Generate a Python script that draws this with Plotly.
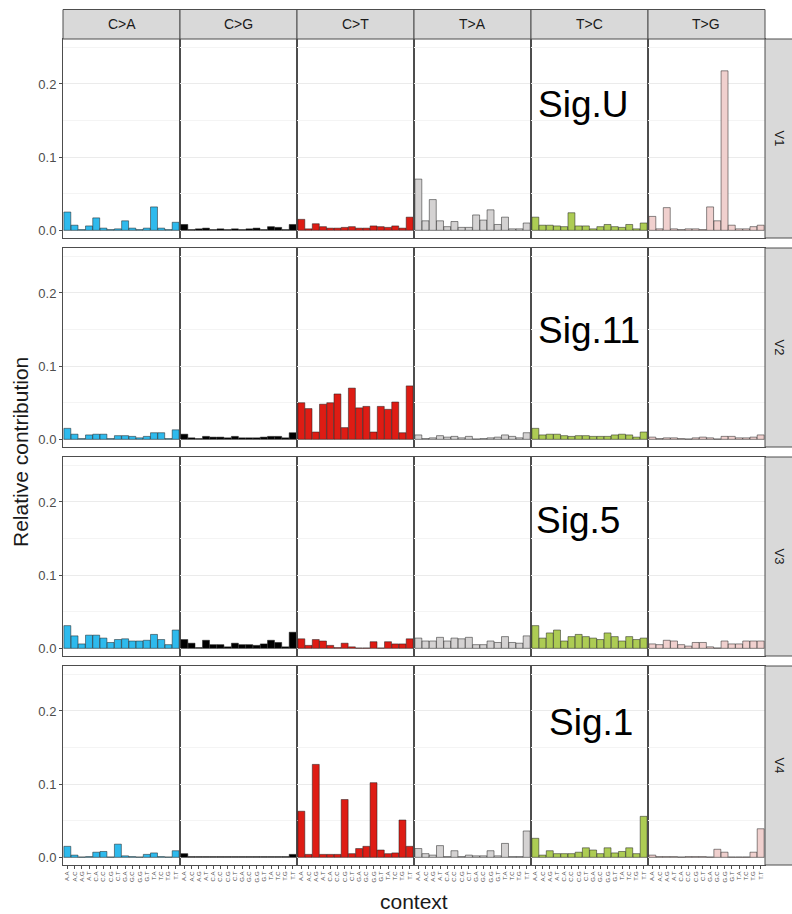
import plotly.graph_objects as go
from plotly.subplots import make_subplots

substitutions = ["C>A", "C>G", "C>T", "T>A", "T>C", "T>G"]
sub_colors = ["#2EBAED", "#000000", "#DE1C14", "#D4D2D2", "#ADCC54", "#F0D0CE"]
contexts = [a + "." + b for a in "ACGT" for b in "ACGT"]
signatures = ["V1", "V2", "V3", "V4"]
sig_labels = ["Sig.U", "Sig.11", "Sig.5", "Sig.1"]

# Relative contribution per signature: 6 substitution types x 16 contexts
V1 = [
    [0.025, 0.007, 0.001, 0.006, 0.017, 0.003, 0.001, 0.002, 0.013, 0.003, 0.001, 0.003, 0.032, 0.003, 0.001, 0.011],
    [0.008, 0.001, 0.002, 0.003, 0.001, 0.002, 0.001, 0.002, 0.001, 0.002, 0.003, 0.001, 0.005, 0.004, 0.001, 0.008],
    [0.015, 0.002, 0.009, 0.005, 0.003, 0.003, 0.004, 0.005, 0.003, 0.003, 0.006, 0.005, 0.004, 0.006, 0.003, 0.018],
    [0.070, 0.013, 0.042, 0.013, 0.005, 0.012, 0.004, 0.004, 0.021, 0.014, 0.028, 0.008, 0.018, 0.002, 0.002, 0.010],
    [0.018, 0.007, 0.007, 0.006, 0.005, 0.024, 0.006, 0.006, 0.002, 0.005, 0.008, 0.005, 0.004, 0.008, 0.002, 0.010],
    [0.019, 0.002, 0.031, 0.002, 0.001, 0.002, 0.002, 0.001, 0.032, 0.013, 0.218, 0.007, 0.002, 0.002, 0.005, 0.007],
]
V2 = [
    [0.015, 0.007, 0.001, 0.006, 0.007, 0.007, 0.001, 0.005, 0.005, 0.004, 0.002, 0.004, 0.009, 0.009, 0.001, 0.013],
    [0.007, 0.002, 0.001, 0.004, 0.003, 0.003, 0.002, 0.004, 0.002, 0.002, 0.002, 0.003, 0.004, 0.004, 0.002, 0.009],
    [0.050, 0.042, 0.010, 0.048, 0.050, 0.062, 0.016, 0.070, 0.043, 0.045, 0.010, 0.045, 0.041, 0.051, 0.009, 0.073],
    [0.006, 0.001, 0.002, 0.005, 0.003, 0.004, 0.002, 0.004, 0.0005, 0.001, 0.002, 0.003, 0.006, 0.004, 0.002, 0.009],
    [0.015, 0.006, 0.007, 0.007, 0.005, 0.004, 0.005, 0.005, 0.004, 0.004, 0.004, 0.006, 0.007, 0.006, 0.003, 0.010],
    [0.003, 0.001, 0.002, 0.002, 0.001, 0.0005, 0.002, 0.003, 0.002, 0.0005, 0.004, 0.004, 0.002, 0.002, 0.003, 0.006],
]
V3 = [
    [0.031, 0.017, 0.006, 0.018, 0.018, 0.014, 0.008, 0.012, 0.013, 0.010, 0.010, 0.011, 0.019, 0.012, 0.005, 0.025],
    [0.012, 0.007, 0.001, 0.011, 0.005, 0.005, 0.002, 0.007, 0.005, 0.005, 0.004, 0.006, 0.011, 0.008, 0.002, 0.022],
    [0.013, 0.004, 0.012, 0.010, 0.004, 0.001, 0.007, 0.002, 0.0005, 0.0005, 0.009, 0.0005, 0.009, 0.006, 0.006, 0.013],
    [0.014, 0.010, 0.010, 0.015, 0.010, 0.014, 0.013, 0.015, 0.005, 0.005, 0.010, 0.008, 0.016, 0.008, 0.007, 0.017],
    [0.031, 0.014, 0.021, 0.025, 0.010, 0.016, 0.019, 0.016, 0.014, 0.012, 0.021, 0.016, 0.010, 0.016, 0.012, 0.014],
    [0.006, 0.005, 0.011, 0.010, 0.005, 0.003, 0.008, 0.008, 0.002, 0.0005, 0.010, 0.006, 0.006, 0.010, 0.010, 0.010],
]
V4 = [
    [0.015, 0.003, 0.0005, 0.001, 0.007, 0.008, 0.0005, 0.018, 0.002, 0.001, 0.0005, 0.004, 0.006, 0.001, 0.0005, 0.009],
    [0.005, 0.001, 0.001, 0.001, 0.001, 0.001, 0.001, 0.001, 0.001, 0.001, 0.001, 0.001, 0.001, 0.001, 0.001, 0.004],
    [0.063, 0.004, 0.127, 0.004, 0.004, 0.004, 0.079, 0.005, 0.012, 0.015, 0.102, 0.010, 0.005, 0.006, 0.051, 0.015],
    [0.012, 0.005, 0.003, 0.016, 0.001, 0.009, 0.001, 0.003, 0.002, 0.002, 0.009, 0.002, 0.019, 0.001, 0.001, 0.036],
    [0.026, 0.003, 0.009, 0.005, 0.005, 0.005, 0.007, 0.013, 0.010, 0.005, 0.013, 0.006, 0.008, 0.013, 0.005, 0.056],
    [0.003, 0.001, 0.001, 0.001, 0.0005, 0.001, 0.001, 0.001, 0.0005, 0.011, 0.007, 0.0005, 0.0005, 0.0005, 0.007, 0.039],
]
all_values = [V1, V2, V3, V4]

W, H = 792, 914
ML, MR, MT, MB = 63, 27, 39, 49
n_rows, n_cols = 4, 6
gap_px = 10
plot_h = H - MT - MB
plot_w = W - ML - MR
vsp = gap_px / plot_h

fig = make_subplots(rows=n_rows, cols=n_cols, shared_yaxes=True,
                    horizontal_spacing=0, vertical_spacing=vsp)

for r in range(n_rows):
    for c in range(n_cols):
        fig.add_trace(go.Bar(
            x=contexts, y=all_values[r][c],
            marker=dict(color=sub_colors[c], line=dict(color="#1a1a1a", width=0.5)),
            showlegend=False, hoverinfo="x+y",
        ), row=r + 1, col=c + 1)

fig.update_layout(
    width=W, height=H,
    margin=dict(l=ML, r=MR, t=MT, b=MB),
    paper_bgcolor="white", plot_bgcolor="white",
    bargap=0.04,
    font=dict(family="Liberation Sans, Arial, sans-serif", color="#1a1a1a"),
)

fig.update_xaxes(
    type="category", range=[-0.6, 15.6],
    showgrid=False, zeroline=False,
    showline=True, linecolor="#4d4d4d", linewidth=1, mirror=True,
    ticks="", tickangle=-90, tickfont=dict(size=6, color="#4d4d4d"),
    showticklabels=False,
)
for c in range(n_cols):
    fig.update_xaxes(showticklabels=True, ticks="outside", ticklen=3,
                     tickcolor="#4d4d4d", tickwidth=1, row=n_rows, col=c + 1)

fig.update_yaxes(
    range=[-0.0105, 0.2615],
    tickvals=[0.0, 0.1, 0.2], ticktext=["0.0", "0.1", "0.2"],
    showgrid=True, gridcolor="#ebebeb", gridwidth=1,
    minor=dict(tickvals=[0.05, 0.15, 0.25], showgrid=True, gridcolor="#f4f4f4", gridwidth=1, ticks=""),
    zeroline=False,
    showline=True, linecolor="#4d4d4d", linewidth=1, mirror=True,
    ticks="", tickfont=dict(size=13, color="#4d4d4d"),
)
for r in range(n_rows):
    fig.update_yaxes(ticks="outside", ticklen=3, tickcolor="#4d4d4d", row=r + 1, col=1)

# Strips
shapes = []
annotations = []
strip_top_px = 9.5
strip_top = 1 + (MT - strip_top_px) / plot_h
for c in range(n_cols):
    xa = fig.layout["xaxis" + ("" if c == 0 else str(c + 1))].domain
    shapes.append(dict(type="rect", xref="paper", yref="paper",
                       x0=xa[0], x1=xa[1], y0=1, y1=strip_top,
                       fillcolor="#d9d9d9", line=dict(color="#4d4d4d", width=1)))
    annotations.append(dict(xref="paper", yref="paper", x=(xa[0] + xa[1]) / 2,
                            y=(1 + strip_top) / 2, text=substitutions[c], showarrow=False,
                            font=dict(size=14, color="#1a1a1a"), xanchor="center", yanchor="middle"))

strip_right = 1 + (MR + 5) / plot_w
for r in range(n_rows):
    idx = r * n_cols + n_cols
    ya = fig.layout["yaxis" + str(idx)].domain
    shapes.append(dict(type="rect", xref="paper", yref="paper",
                       x0=1, x1=strip_right, y0=ya[0], y1=ya[1],
                       fillcolor="#d9d9d9", line=dict(color="#4d4d4d", width=1)))
    annotations.append(dict(xref="paper", yref="paper", x=1 + 14 / plot_w,
                            y=(ya[0] + ya[1]) / 2, text=signatures[r], showarrow=False,
                            textangle=90, font=dict(size=13, color="#1a1a1a"),
                            xanchor="center", yanchor="middle"))

# Signature labels (pixel centers converted to paper)
label_px = [(583, 104), (589, 330), (578, 520), (591, 722)]
for (px, py), txt in zip(label_px, sig_labels):
    annotations.append(dict(xref="paper", yref="paper",
                            x=(px - ML) / plot_w, y=1 - (py - MT) / plot_h,
                            text=txt, showarrow=False,
                            font=dict(size=37, color="black"),
                            xanchor="center", yanchor="middle"))

# Axis titles
annotations.append(dict(xref="paper", yref="paper", x=(414 - ML) / plot_w,
                        y=1 - (902 - MT) / plot_h, text="context", showarrow=False,
                        font=dict(size=21, color="#1a1a1a"), xanchor="center", yanchor="middle"))
annotations.append(dict(xref="paper", yref="paper", x=(20 - ML) / plot_w,
                        y=1 - (452 - MT) / plot_h, text="Relative contribution", showarrow=False,
                        textangle=-90, font=dict(size=21, color="#1a1a1a"),
                        xanchor="center", yanchor="middle"))

fig.update_layout(shapes=shapes, annotations=annotations)
fig.write_html("out.html", config={"displayModeBar": False},
               post_script="document.body.style.margin='0';document.body.style.overflow='hidden';")
